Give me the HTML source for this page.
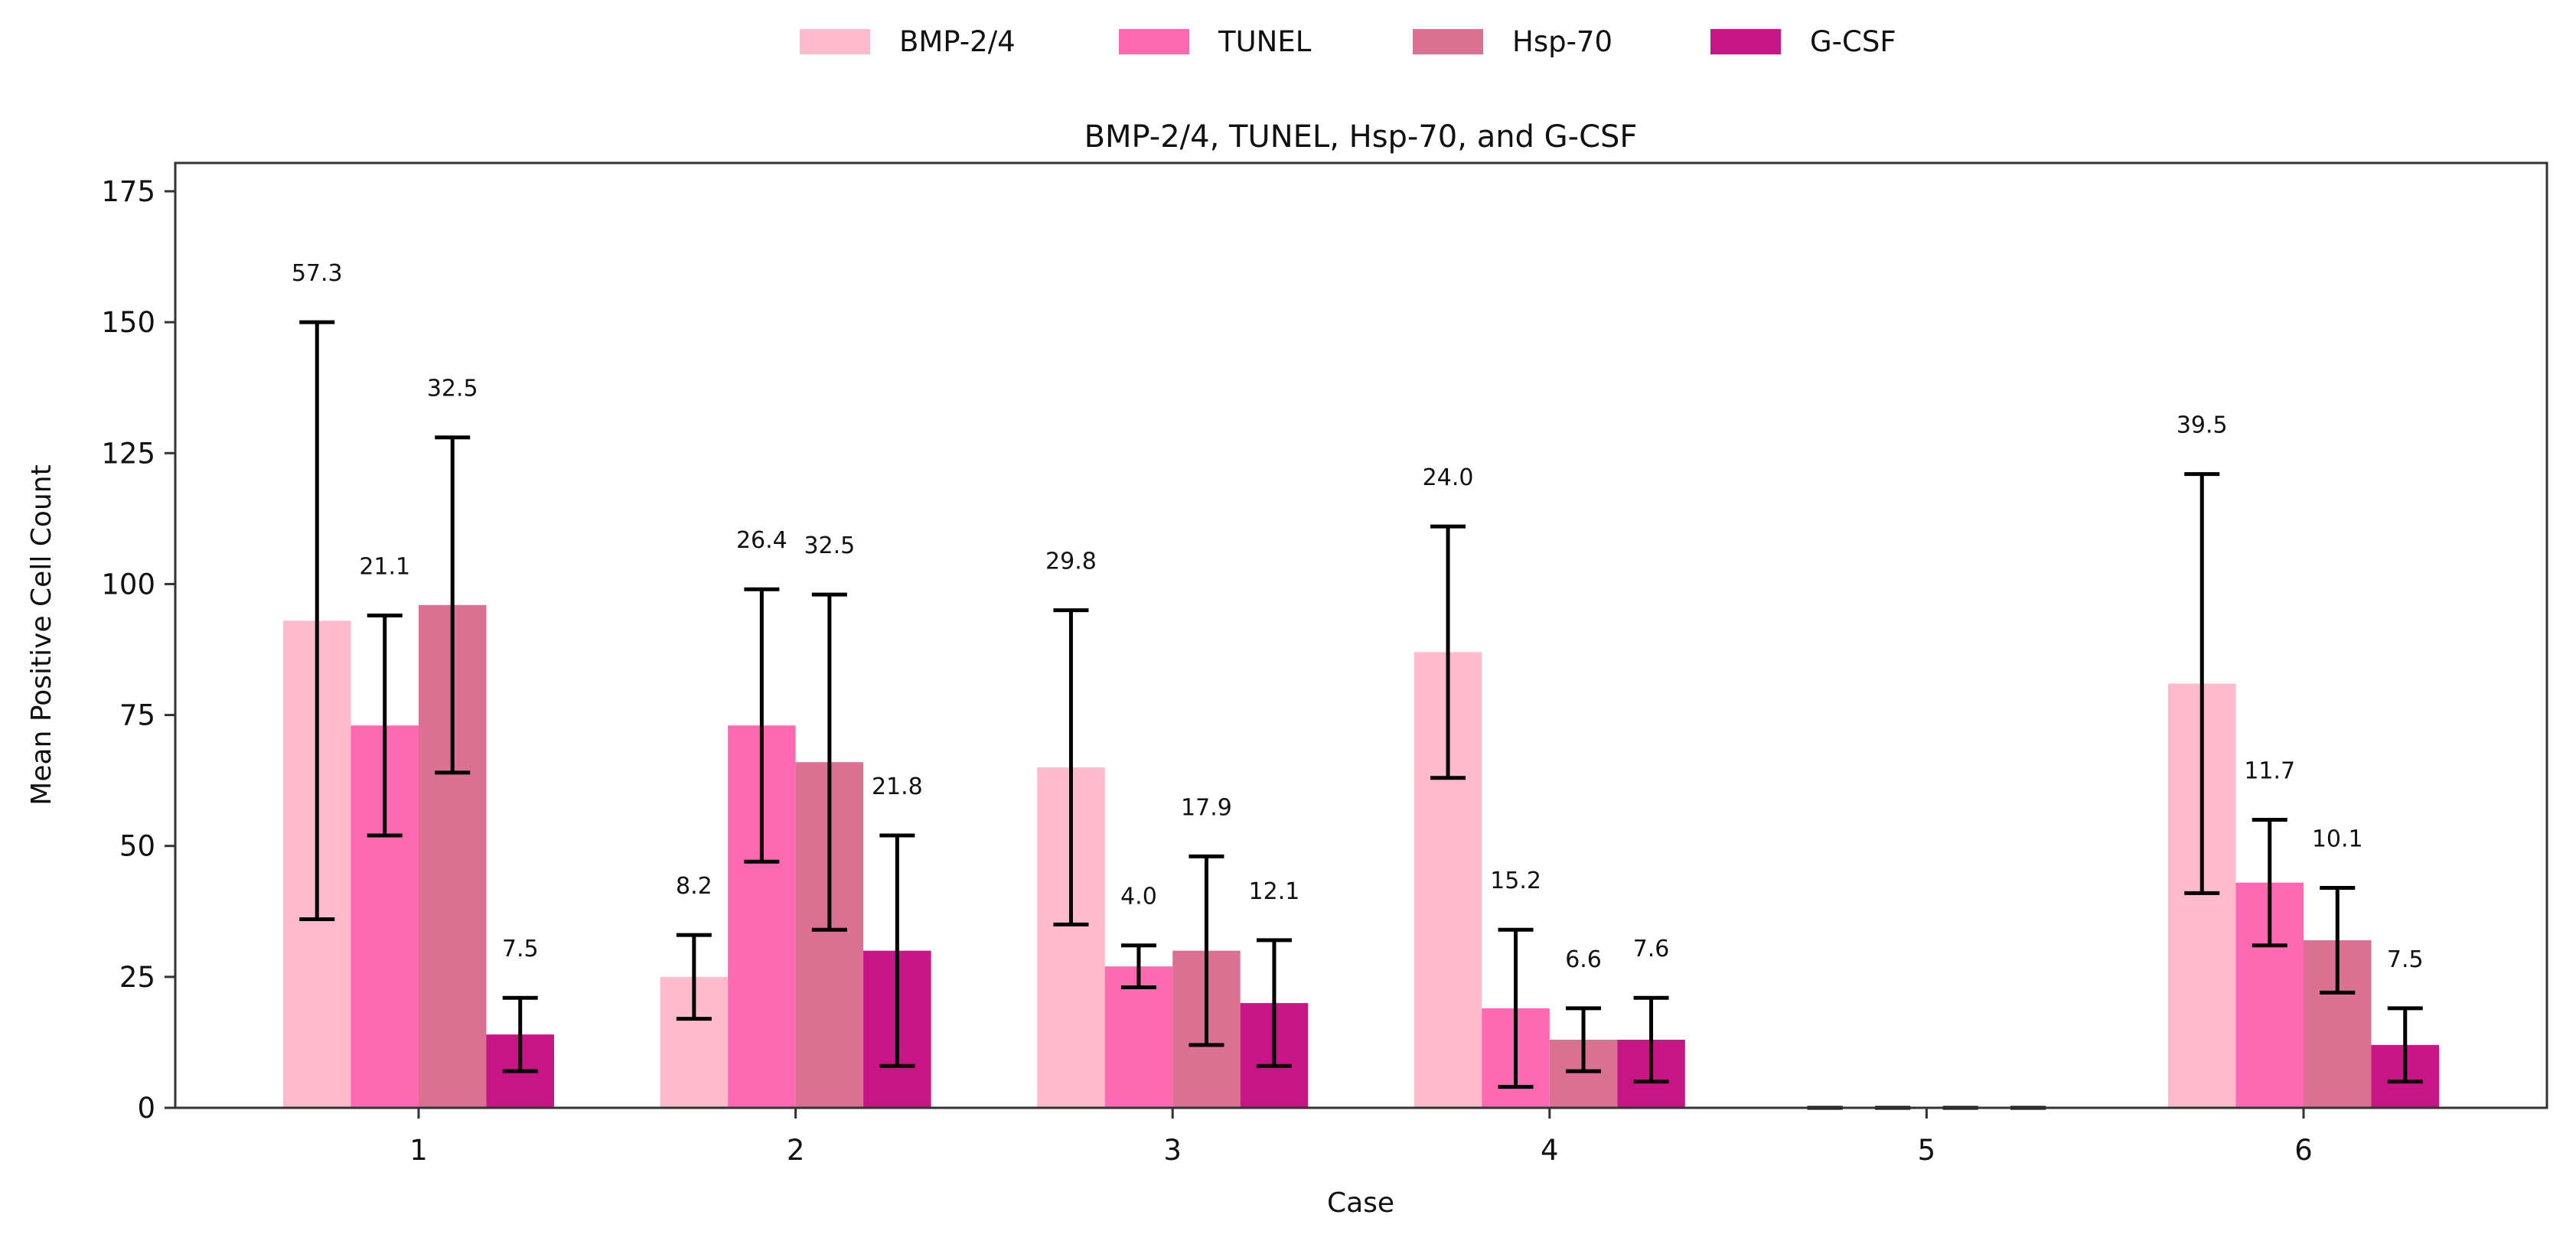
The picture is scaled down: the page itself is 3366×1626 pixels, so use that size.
<!DOCTYPE html>
<html><head><meta charset="utf-8"><style>
html,body{margin:0;padding:0;background:#fff;}
svg{display:block;font-family:"DejaVu Sans","Liberation Sans",sans-serif;}
</style></head><body>
<svg id="chart" width="3366" height="1626" viewBox="0 0 3366 1626">
<rect x="0" y="0" width="3366" height="1626" fill="#fff"/>
<g id="legend"></g>
<text x="1778" y="192" font-size="40" text-anchor="middle" fill="#111">BMP-2/4, TUNEL, Hsp-70, and G-CSF</text>
<g id="bars"></g>
<g id="errs"></g>
<g id="vals"></g>
<rect x="229" y="213" width="3099" height="1235" fill="none" stroke="#333" stroke-width="3"/>
<g id="yaxis"></g>
<g id="xaxis"></g>
<text transform="translate(66,830) rotate(-90)" font-size="36" text-anchor="middle" fill="#111">Mean Positive Cell Count</text>
<text x="1778" y="1584" font-size="36" text-anchor="middle" fill="#111">Case</text>
</svg>
<script>
const categories = ["1","2","3","4","5","6"];
const seriesNames = ["BMP-2/4","TUNEL","Hsp-70","G-CSF"];
const seriesColors = ["#FFBBCB","#FF69B4","#DB7093","#C71585"];
const bmpValues = [93,25,65,87,0,81];
const tunelValues = [73,73,27,19,0,43];
const hspValues = [96,66,30,13,0,32];
const gcsfValues = [14,30,20,13,0,12];
const bmpErr = [57,8,30,24,0,40];
const tunelErr = [21,26,4,15,0,12];
const hspErr = [32,32,18,6,0,10];
const gcsfErr = [7,22,12,8,0,7];
const bmpLabels = ["57.3","8.2","29.8","24.0","","39.5"];
const tunelLabels = ["21.1","26.4","4.0","15.2","","11.7"];
const hspLabels = ["32.5","32.5","17.9","6.6","","10.1"];
const gcsfLabels = ["7.5","21.8","12.1","7.6","","7.5"];
const yTicks = [0,25,50,75,100,125,150,175];

const NS="http://www.w3.org/2000/svg";
function y(v){return 1448-(v/175)*(1448-250);}
function x(i){return 547+i*492.6;}
const barW=88.5;
function mk(tag,attrs,parent){const e=document.createElementNS(NS,tag);for(const k in attrs)e.setAttribute(k,attrs[k]);parent.appendChild(e);return e;}

const vals=[bmpValues,tunelValues,hspValues,gcsfValues];
const errs=[bmpErr,tunelErr,hspErr,gcsfErr];
const labs=[bmpLabels,tunelLabels,hspLabels,gcsfLabels];
const gb=document.getElementById('bars'),ge=document.getElementById('errs'),gv=document.getElementById('vals');
for(let s=0;s<4;s++){
  for(let i=0;i<categories.length;i++){
    const cx=x(i)+(s-1.5)*barW;
    const v=vals[s][i],e=errs[s][i];
    const r=mk('rect',{x:cx-barW/2,y:y(v),width:barW,height:y(0)-y(v),fill:seriesColors[s]},gb);
    
    
    const eg=mk('g',{stroke:'#000','stroke-width':5},ge);
    
    
    mk('line',{x1:cx,x2:cx,y1:y(v-e),y2:y(v+e)},eg);
    mk('line',{x1:cx-23,x2:cx+23,y1:y(v+e),y2:y(v+e)},eg);
    mk('line',{x1:cx-23,x2:cx+23,y1:y(v-e),y2:y(v-e)},eg);
    if(labs[s][i]){
      const t=mk('text',{x:cx,y:y(v+e+9.5)+11,'font-size':30,'text-anchor':'middle',fill:'#111'},gv);
      t.textContent=labs[s][i];
      
      
    }
  }
}
const ya=document.getElementById('yaxis');
yTicks.forEach(t=>{
  mk('line',{x1:215,x2:229,y1:y(t),y2:y(t),stroke:'#333','stroke-width':3},ya);
  const tx=mk('text',{x:203,y:y(t)+13,'font-size':37,'text-anchor':'end',fill:'#111'},ya);
  tx.textContent=t;
  
  
});
const xa=document.getElementById('xaxis');
categories.forEach((c,i)=>{
  mk('line',{x1:x(i),x2:x(i),y1:1448,y2:1462,stroke:'#333','stroke-width':3},xa);
  const tx=mk('text',{x:x(i),y:1516,'font-size':37,'text-anchor':'middle',fill:'#111'},xa);
  tx.textContent=c;
  
  
});
const lg=document.getElementById('legend');
const legX=[1045,1462,1846,2235];
seriesNames.forEach((n,s)=>{
  const g=mk('g',{},lg);
  
  
  mk('rect',{x:legX[s],y:38,width:92,height:33,fill:seriesColors[s]},g);
  const t=mk('text',{x:legX[s]+130,y:67,'font-size':37,fill:'#111'},g);
  t.textContent=n;
});
</script>
</body></html>
